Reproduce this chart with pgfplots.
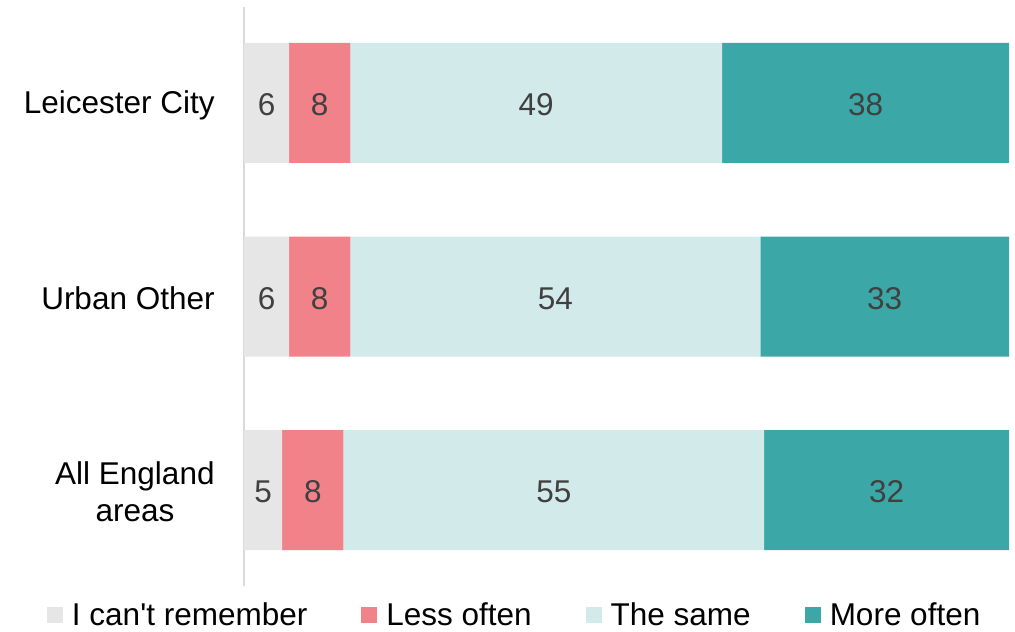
\documentclass[border=0pt]{standalone}
\usepackage{fontspec}
\setmainfont{Liberation Sans}
\usepackage{pgfplots}
\pgfplotsset{compat=1.18}
\usepackage{pgfplotstable}
\definecolor{cRem}{HTML}{E6E6E6}
\definecolor{cLess}{HTML}{F1828A}
\definecolor{cSame}{HTML}{D2EAEA}
\definecolor{cMore}{HTML}{3BA8A7}
\definecolor{axisgray}{HTML}{D9D9D9}
\definecolor{labgray}{HTML}{404040}
\newcommand{\chartfont}{\fontsize{15.75}{18.5}\selectfont}

% y: 0 = All England areas, 1 = Urban Other, 2 = Leicester City
\pgfplotstableread{
x y label
5.9 2 6
5.9 1 6
5.0 0 5
}\tRem
\pgfplotstableread{
x y label
8.0 2 8
8.0 1 8
8.0 0 8
}\tLess
\pgfplotstableread{
x y label
48.6 2 49
53.6 1 54
55.0 0 55
}\tSame
\pgfplotstableread{
x y label
37.5 2 38
32.5 1 33
32.0 0 32
}\tMore

\begin{document}
\begin{tikzpicture}
\begin{axis}[
  scale only axis,
  width=382.5pt, height=289.5pt,
  xbar stacked, bar width=60pt,
  xmin=0, xmax=100, ymin=-0.496, ymax=2.496,
  axis x line=none,
  axis y line*=left,
  y axis line style={draw=axisgray, line width=0.75pt, -},
  ytick={0,1,2},
  yticklabels={All England\\areas, Urban Other, Leicester City},
  yticklabel style={align=center, inner sep=0pt, xshift=-14.5pt, yshift=-1pt, font=\chartfont, text=black},
  ytick style={draw=none},
  major tick length=0pt,
  point meta=explicit symbolic,
  nodes near coords,
  every node near coord/.append style={anchor=center, font=\chartfont, text=labgray, inner sep=0pt, yshift=-1pt},
  legend columns=4,
  legend image code/.code={\fill[#1] (0pt,-3.5pt) rectangle (8pt,4.5pt);},
  legend style={at={(rel axis cs:-0.2575,-0.0518)}, anchor=west, draw=none, fill=none,
    inner sep=0pt, outer sep=0pt, font=\chartfont, nodes={inner sep=0pt},
    /tikz/every odd column/.append style={column sep=4.5pt},
    /tikz/every even column/.append style={column sep=27pt}},
]
\addplot[fill=cRem, draw=none] table[x=x, y=y, meta=label] {\tRem};
\addplot[fill=cLess, draw=none] table[x=x, y=y, meta=label] {\tLess};
\addplot[fill=cSame, draw=none] table[x=x, y=y, meta=label] {\tSame};
\addplot[fill=cMore, draw=none] table[x=x, y=y, meta=label] {\tMore};
\legend{I can\textquotesingle t remember, Less often, The same, More often}
\coordinate (bbl) at (rel axis cs:-0.31895,-0.07772);
\coordinate (btr) at (rel axis cs:1.00784,1.01209);
\end{axis}
\pgfresetboundingbox
\path (bbl) rectangle (btr);
\end{tikzpicture}
\end{document}
